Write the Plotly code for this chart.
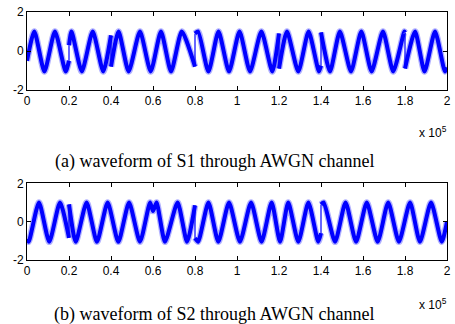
import plotly.graph_objects as go

# ---- data (x in samples, y amplitude) ----
# Waveform S1: segments between phase jumps (peak / trough / jump points)
s1_seg_x = [
    [0, 3500, 8300, 13300, 18400, 20000],
    [20000, 21200, 26100, 31300, 36300, 40000],
    [40000, 43600, 48400, 53800, 58900, 63800, 68600, 73700, 80000],
    [80000, 81500, 86400, 91200, 96200, 101200, 106200, 111600, 116800, 120000],
    [120000, 123800, 129200, 134100, 139000, 140000],
    [140000, 144300, 149000, 154300, 159200, 164100, 169500, 174400, 179700, 180000],
    [180000, 184800, 189300, 194300, 199000, 200000],
]
s1_seg_y = [
    [-0.5, 1.0, -1.05, 1.0, -1.05, -0.5],
    [0.3, 1.0, -1.05, 1.0, -1.05, 0.8],
    [-0.8, 1.0, -1.05, 1.0, -1.05, 1.0, -1.05, 1.0, -0.8],
    [0.9, 1.0, -1.05, 1.0, -1.05, 1.0, -1.05, 1.0, -1.05, 0.9],
    [-0.9, 1.0, -1.05, 1.0, -1.05, -0.75],
    [0.95, -1.05, 1.0, -1.05, 1.0, -1.05, 1.0, -1.05, 1.0, 0.95],
    [-0.9, 1.0, -1.05, 1.0, -1.05, -0.85],
]

# Waveform S2
s2_seg_x = [
    [0, 800, 5700, 10600, 15700, 20000],
    [20000, 23200, 28400, 33300, 38400, 43500, 48600, 53800, 58600, 60000,
     61700, 65700, 71700, 76200, 80000],
    [80000, 81500, 86400, 91100, 96200, 101400, 106700, 111700, 116500,
     120500, 124400, 129200, 134000, 138700, 140000],
    [140000, 141300, 146700, 151700, 156700, 161800, 167000, 172000, 177100,
     182400, 187100, 192400, 197500, 200000],
]
s2_seg_y = [
    [-0.9, -1.05, 1.0, -1.05, 1.0, -0.85],
    [0.9, -1.05, 1.0, -1.05, 1.0, -1.05, 1.0, -1.05, 1.0, 0.55,
     1.0, -1.05, 1.0, -1.05, 0.85],
    [-0.85, -1.05, 1.0, -1.05, 1.0, -1.05, 1.0, -1.05, 1.0,
     -1.05, 1.0, -1.05, 1.0, -1.05, -0.6],
    [0.9, 1.0, -1.05, 1.0, -1.05, 1.0, -1.05, 1.0, -1.05,
     1.0, -1.05, 1.0, -1.05, 0.0],
]

x_tickvals = [0, 20000, 40000, 60000, 80000, 100000, 120000, 140000, 160000, 180000, 200000]
x_ticktext = ["0", "0.2", "0.4", "0.6", "0.8", "1", "1.2", "1.4", "1.6", "1.8", "2"]
y_tickvals = [-2, 0, 2]
y_ticktext = ["-2", "0", "2"]

captions = ["(a) waveform of S1 through AWGN channel",
            "(b) waveform of S2 through AWGN channel"]

BLUE = "#0000ff"


def join_segments(seg_x, seg_y):
    xs, ys = [], []
    for sx, sy in zip(seg_x, seg_y):
        xs += list(sx) + [None]
        ys += list(sy) + [None]
    return xs, ys


def connectors(seg_x, seg_y):
    xs, ys = [], []
    for i in range(len(seg_x) - 1):
        xs += [seg_x[i][-1], seg_x[i + 1][0], None]
        ys += [seg_y[i][-1], seg_y[i + 1][0], None]
    return xs, ys


fig = go.Figure()
for (sx, sy), ax in [((s1_seg_x, s1_seg_y), ("x", "y")), ((s2_seg_x, s2_seg_y), ("x2", "y2"))]:
    jx, jy = join_segments(sx, sy)
    cx, cy = connectors(sx, sy)
    fig.add_trace(go.Scatter(x=jx, y=jy, mode="lines", xaxis=ax[0], yaxis=ax[1],
                             line=dict(color="rgba(60,60,255,0.4)", width=6.5,
                                       shape="spline", smoothing=0.6),
                             hoverinfo="skip", showlegend=False))
    fig.add_trace(go.Scatter(x=jx, y=jy, mode="lines", xaxis=ax[0], yaxis=ax[1],
                             line=dict(color=BLUE, width=4, shape="spline", smoothing=0.6),
                             showlegend=False))
    fig.add_trace(go.Scatter(x=cx, y=cy, mode="lines", xaxis=ax[0], yaxis=ax[1],
                             line=dict(color=BLUE, width=1.2),
                             showlegend=False))

tickfont = dict(family="Liberation Sans, Arial, sans-serif", size=12, color="#000")
xcommon = dict(range=[0, 200001], tickvals=x_tickvals, ticktext=x_ticktext,
               showline=True, mirror="ticks", linecolor="#000", linewidth=1,
               ticks="inside", ticklen=4, tickcolor="#000", showgrid=False,
               zeroline=False, tickfont=tickfont, ticklabeloverflow="allow")
ycommon = dict(range=[-2, 2.0001], tickvals=y_tickvals, ticktext=y_ticktext,
               showline=True, mirror="ticks", linecolor="#000", linewidth=1,
               ticks="inside", ticklen=4, tickcolor="#000", showgrid=False,
               zeroline=False, tickfont=tickfont, ticklabeloverflow="allow")

# The page body margin is removed (post_script below), so screen px == figure px.
W, Hfig = 455, 324
L, R, T, B = 27, 8, 12, 64
H = Hfig - T - B
PW = W - L - R


def py(px):  # screen pixel y -> paper y
    return (Hfig - B - px) / H


def pxx(px):  # screen pixel x -> paper x
    return (px - L) / PW


fig.update_layout(
    width=W, height=Hfig,
    margin=dict(l=L, r=R, t=T, b=B, autoexpand=False),
    paper_bgcolor="white", plot_bgcolor="white",
    xaxis=dict(domain=[0, 1], anchor="y", **xcommon),
    yaxis=dict(domain=[py(90), 1], anchor="x", **ycommon),
    xaxis2=dict(domain=[0, 1], anchor="y2", **xcommon),
    yaxis2=dict(domain=[0, py(183.3)], anchor="x2", **ycommon),
    showlegend=False,
)

for ypx in (132, 304):
    fig.add_annotation(text="x 10<sup>5</sup>", xref="paper", yref="paper",
                       x=pxx(433), y=py(ypx), showarrow=False,
                       xanchor="center", yanchor="middle",
                       font=dict(family="Liberation Sans, Arial, sans-serif", size=12, color="#000"))

for cap, ypx in zip(captions, (161, 314)):
    fig.add_annotation(text=cap, xref="paper", yref="paper",
                       x=pxx(214), y=py(ypx), showarrow=False,
                       xanchor="center", yanchor="middle",
                       font=dict(family="Liberation Serif, Times New Roman, serif", size=18, color="#000"))

fig.write_html("out.html", config={"displayModeBar": False},
               post_script="document.body.style.margin='0px';document.body.style.overflow='hidden';")
